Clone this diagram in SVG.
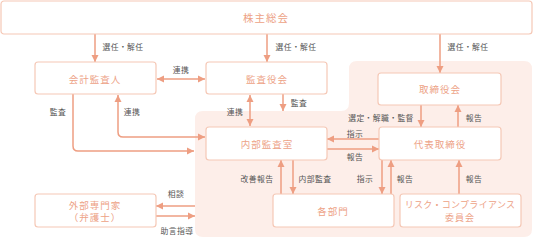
<svg xmlns="http://www.w3.org/2000/svg" width="533" height="240" viewBox="0 0 533 240">
<style>
.box{fill:#fff;stroke:#f5c8b6;stroke-width:1.2}
.bt{font-family:"Noto Sans CJK JP","Noto Sans",sans-serif;font-size:9.5px;fill:#eda286;text-anchor:middle;dominant-baseline:central;letter-spacing:1px}
.lb{font-family:"Noto Sans CJK JP","Noto Sans",sans-serif;font-size:7.8px;fill:#555;text-anchor:middle;dominant-baseline:central;letter-spacing:0.4px}
.c{fill:none;stroke:#ee9e82;stroke-width:1.5}
.a{marker-end:url(#ah)}
.d{marker-start:url(#ah);marker-end:url(#ah)}
</style>
<defs>
<marker id="ah" markerUnits="userSpaceOnUse" markerWidth="8" markerHeight="8" refX="7" refY="3.5" orient="auto-start-reverse" viewBox="0 0 8 7">
<path d="M0,0 L7,3.5 L0,7 z" fill="#ee9e82"/>
</marker>
</defs>
<path d="M203,111 H341 Q349,111 349,103 V69 Q349,61 357,61 H524 Q532,61 532,69 V229 Q532,237 524,237 H203 Q195,237 195,229 V119 Q195,111 203,111 Z" fill="#fdeee9"/>
<g id="connectors">
<line class="c a" x1="95" y1="34" x2="95" y2="62"/>
<line class="c a" x1="267" y1="34" x2="267" y2="62"/>
<line class="c a" x1="440" y1="34" x2="440" y2="73"/>
<line class="c d" x1="157" y1="79" x2="205" y2="79"/>
<path class="c a" d="M73,94 V146 Q73,151 78,151 H194"/>
<path class="c d" d="M118,95 V132 Q118,137 123,137 H205"/>
<line class="c d" x1="250" y1="95" x2="250" y2="126"/>
<line class="c a" x1="283" y1="94" x2="283" y2="111"/>
<line class="c a" x1="421" y1="105" x2="421" y2="127"/>
<line class="c a" x1="458" y1="127" x2="458" y2="105"/>
<line class="c a" x1="379" y1="139" x2="327" y2="139"/>
<line class="c a" x1="327" y1="149" x2="379" y2="149"/>
<line class="c a" x1="281" y1="194" x2="281" y2="160"/>
<line class="c a" x1="293" y1="160" x2="293" y2="194"/>
<line class="c a" x1="382" y1="160" x2="382" y2="194"/>
<line class="c a" x1="391" y1="194" x2="391" y2="160"/>
<line class="c a" x1="459" y1="194" x2="459" y2="160"/>
<line class="c a" x1="195" y1="206" x2="156" y2="206"/>
<line class="c a" x1="156" y1="216" x2="195" y2="216"/>
</g>
<g id="labels">
<text class="lb" x="123" y="46">選任・解任</text>
<text class="lb" x="296" y="46">選任・解任</text>
<text class="lb" x="468" y="46">選任・解任</text>
<text class="lb" x="181" y="69">連携</text>
<text class="lb" x="58" y="111">監査</text>
<text class="lb" x="132" y="111">連携</text>
<text class="lb" x="235" y="111">連携</text>
<text class="lb" x="299" y="102">監査</text>
<text class="lb" x="381" y="117">選定・解職・監督</text>
<text class="lb" x="474" y="117">報告</text>
<text class="lb" x="355" y="133">指示</text>
<text class="lb" x="355" y="156">報告</text>
<text class="lb" x="257" y="178">改善報告</text>
<text class="lb" x="315" y="178">内部監査</text>
<text class="lb" x="365" y="178">指示</text>
<text class="lb" x="405" y="178">報告</text>
<text class="lb" x="474" y="178">報告</text>
<text class="lb" x="176" y="193">相談</text>
<text class="lb" x="177" y="230">助言指導</text>
</g>
<g id="shareholders"><rect class="box" x="1" y="1" width="531" height="33" rx="3"/><text class="bt" x="266" y="17" style="font-size:10.5px">株主総会</text></g>
<g id="auditor"><rect class="box" x="35" y="62" width="121" height="32" rx="3"/><text class="bt" x="95" y="79">会計監査人</text></g>
<g id="board-auditors"><rect class="box" x="206" y="62" width="121" height="32" rx="3"/><text class="bt" x="267" y="79">監査役会</text></g>
<g id="board"><rect class="box" x="378" y="73" width="123" height="32" rx="3"/><text class="bt" x="440" y="89">取締役会</text></g>
<g id="internal-audit"><rect class="box" x="206" y="127" width="121" height="33" rx="3"/><text class="bt" x="267" y="144">内部監査室</text></g>
<g id="ceo"><rect class="box" x="379" y="127" width="122" height="33" rx="3"/><text class="bt" x="440" y="144">代表取締役</text></g>
<g id="departments"><rect class="box" x="273" y="194" width="121" height="33" rx="3"/><text class="bt" x="333" y="211">各部門</text></g>
<g id="risk"><rect class="box" x="400" y="194" width="121" height="33" rx="3"/><text class="bt" x="460" y="204.5" style="font-size:9px;letter-spacing:0.3px">リスク・コンプライアンス</text><text class="bt" x="460" y="217" style="font-size:9px">委員会</text></g>
<g id="experts"><rect class="box" x="35" y="194" width="121" height="33" rx="3"/><text class="bt" x="95" y="204.5">外部専門家</text><text class="bt" x="95" y="217">（弁護士）</text></g>
</svg>
